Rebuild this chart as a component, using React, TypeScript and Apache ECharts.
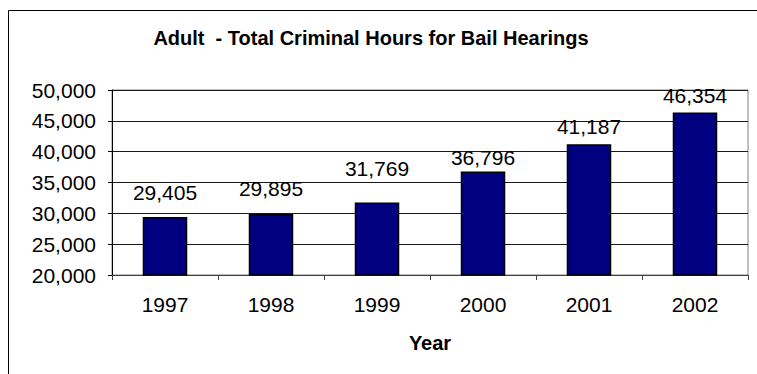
import React, { useEffect, useRef } from "react";
import * as echarts from "echarts";

const titleText = "Adult  - Total Criminal Hours for Bail Hearings";
const years = ["1997", "1998", "1999", "2000", "2001", "2002"];
const hours = [29405, 29895, 31769, 36796, 41187, 46354];
const xAxisName = "Year";

// label gap above each bar (styling only, mirrors reference placement)
const labelGaps = [14, 15, 23, 3, 7, 6];

const FONT = 'Arial, "Liberation Sans", sans-serif';
const fmt = (v: number) => v.toLocaleString("en-US");

export default function App() {
  const ref = useRef<HTMLDivElement>(null);
  useEffect(() => {
    if (!ref.current) return;
    const chart = echarts.init(ref.current, null, { renderer: "svg" });
    chart.setOption({
      animation: false,
      backgroundColor: "#fff",
      textStyle: { fontFamily: FONT },
      title: {
        text: titleText,
        left: 366,
        top: 23,
        textAlign: "center",
        textStyle: { fontFamily: FONT, fontSize: 20, fontWeight: "bold", color: "#000" },
      },
      graphic: [
        {
          type: "rect",
          shape: { x: 8.5, y: 10.5, width: 800, height: 400 },
          style: { fill: "none", stroke: "#000", lineWidth: 1 },
          silent: true,
        },
      ],
      grid: {
        left: 112,
        right: 9,
        top: 90,
        bottom: 99,
        show: true,
        borderColor: "#808080",
        borderWidth: 1,
        backgroundColor: "transparent",
      },
      xAxis: {
        type: "category",
        data: years,
        name: xAxisName,
        nameLocation: "middle",
        nameGap: 58,
        nameTextStyle: { fontFamily: FONT, fontSize: 20, fontWeight: "bold", color: "#000" },
        axisLine: { lineStyle: { color: "#404040", width: 1 } },
        axisTick: { show: true, length: 5, lineStyle: { color: "#404040" } },
        axisLabel: { fontFamily: FONT, fontSize: 21, color: "#000", margin: 19 },
      },
      yAxis: {
        type: "value",
        min: 20000,
        max: 50000,
        interval: 5000,
        axisLine: { show: true, lineStyle: { color: "#000", width: 1 } },
        axisTick: { show: true, length: 4, lineStyle: { color: "#000" } },
        axisLabel: {
          fontFamily: FONT,
          fontSize: 21,
          color: "#000",
          margin: 16,
          formatter: (v: number) => fmt(v),
        },
        splitLine: { show: true, lineStyle: { color: "#1a1a1a", width: 1 } },
      },
      series: [
        {
          type: "bar",
          data: hours.map((v, i) => ({ value: v, label: { distance: labelGaps[i] } })),
          barWidth: "42%",
          itemStyle: { color: "#000080", borderColor: "#000", borderWidth: 1.5 },
          label: {
            show: true,
            position: "top",
            distance: 12,
            fontFamily: FONT,
            fontSize: 21,
            color: "#000",
            formatter: (p: any) => fmt(p.value),
          },
        },
      ],
    });
    return () => chart.dispose();
  }, []);
  return (
    <div
      ref={ref}
      style={{ position: "absolute", left: 0, top: 0, width: 757, height: 374 }}
    />
  );
}
